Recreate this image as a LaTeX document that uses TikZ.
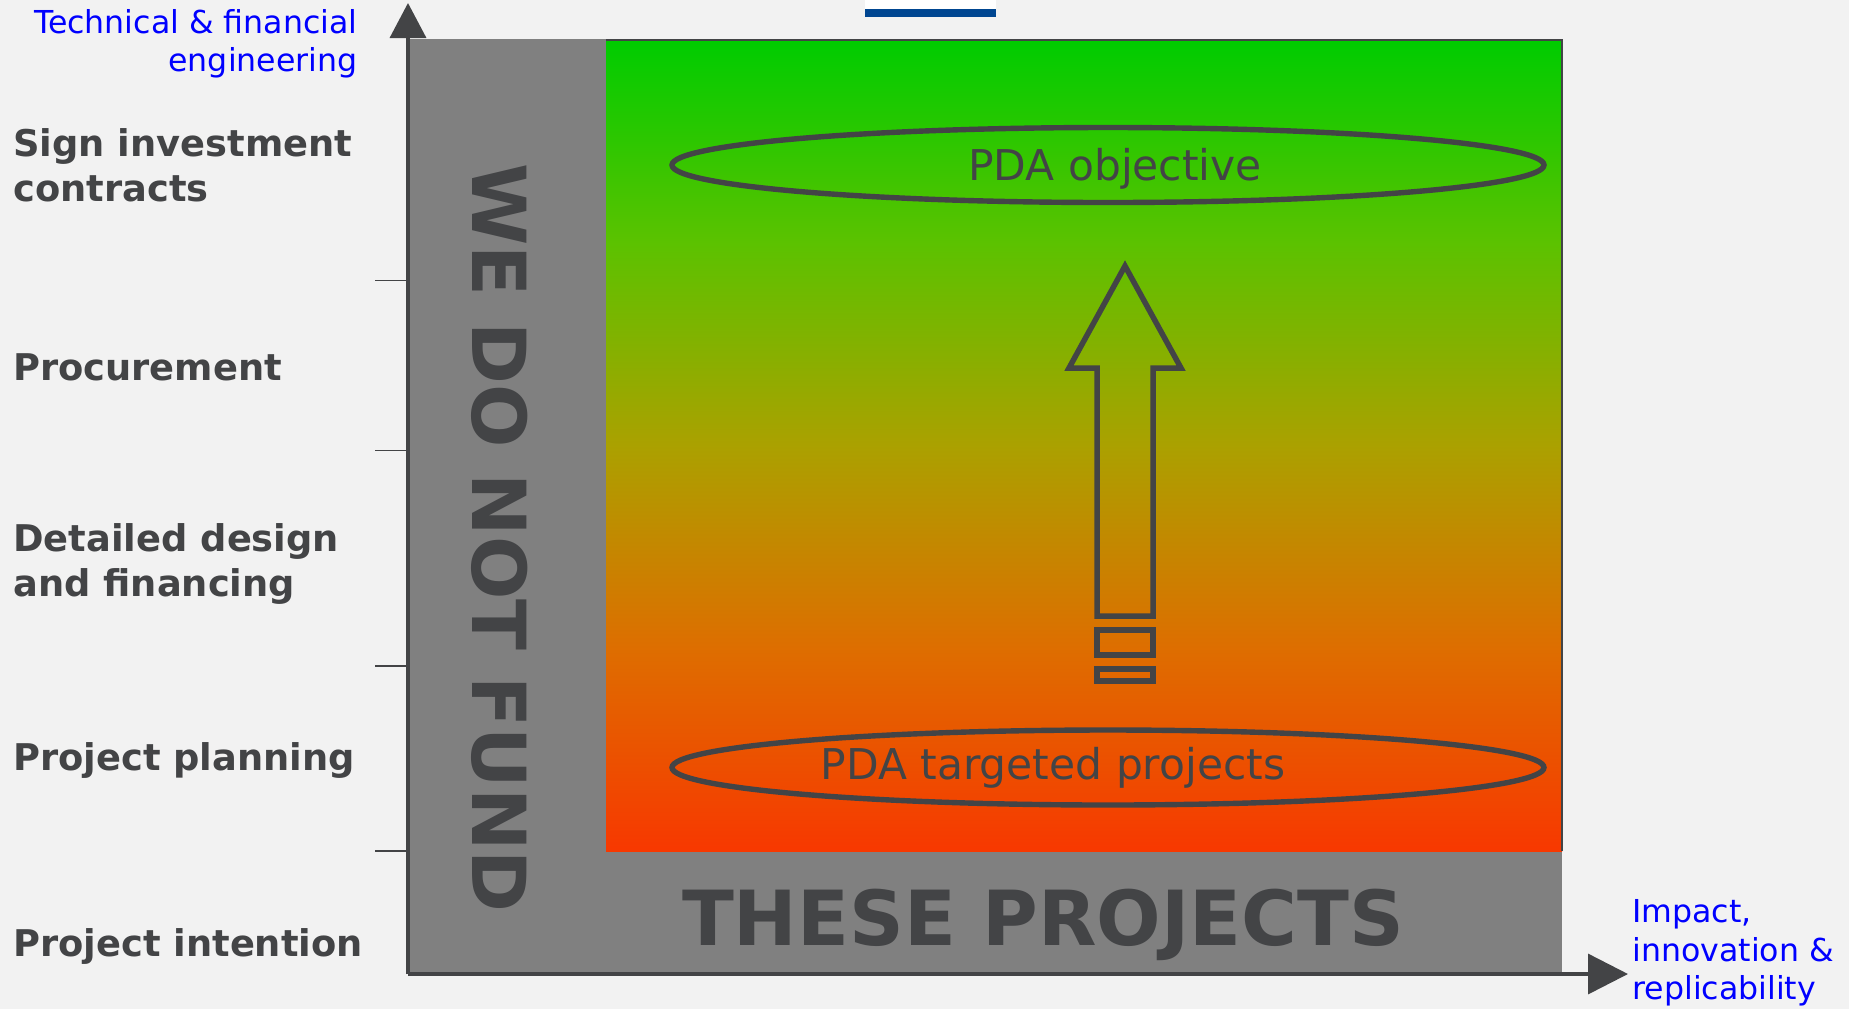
\documentclass[tikz,border=0pt]{standalone}
\usepackage{fontspec}
\setmainfont{DejaVu Sans}
\usetikzlibrary{arrows.meta,shapes.geometric}

\definecolor{bg}{RGB}{242,242,242}
\definecolor{ink}{RGB}{67,68,70}
\definecolor{panel}{RGB}{128,128,128}
\definecolor{axisblue}{RGB}{0,0,255}
\definecolor{logoblue}{RGB}{0,70,145}

% green (top) to red-orange (bottom); the path fills the 25bp..75bp band
\pgfdeclareverticalshading{readiness}{100bp}{%
  rgb(0bp)=(0.97,0.22,0); rgb(25bp)=(0.97,0.22,0);
  rgb(37.5bp)=(0.87,0.43,0); rgb(50bp)=(0.67,0.63,0);
  rgb(62.5bp)=(0.36,0.76,0); rgb(75bp)=(0,0.80,0); rgb(100bp)=(0,0.80,0)}

\tikzset{
  stage/.style={anchor=west, inner sep=0pt, align=left, text=ink,
    font=\fontsize{18.4}{22.5}\selectfont\bfseries},
  axislabel/.style={inner sep=0pt, text=axisblue,
    font=\fontsize{15.8}{19.2}\selectfont},
  goal/.style={ellipse, draw=ink, line width=2.7pt, inner sep=0pt,
    minimum width=436pt, minimum height=37.5pt},
  goaltext/.style={inner sep=0pt, text=ink, font=\fontsize{21.2}{25}\selectfont},
  banner/.style={inner sep=0pt, text=ink, font=\fontsize{38}{44}\selectfont\bfseries},
  axisline/.style={draw=ink, line width=1.75pt},
  tick/.style={draw=ink, line width=0.8pt},
  progress/.style={draw=ink, line width=2.75pt, line join=miter},
}

\begin{document}
\begin{tikzpicture}[x=0.5pt,y=-0.5pt]
  % canvas
  \fill[bg] (0,0) rectangle (1849,1009);
  \useasboundingbox (0,0) rectangle (1849,1009);

  % strip of a header bar at the top edge
  \fill[white] (865,0) rectangle (996,9);
  \fill[logoblue] (865,9) rectangle (996,17);

  % excluded zone and funded zone
  \fill[panel] (408,39) rectangle (1562,974);
  \shade[shading=readiness] (606,41) rectangle (1562,851);
  \draw[ink, line width=0.7pt] (606,40) -- (1562,40) -- (1562,851);

  % axes
  \coordinate (origin) at (408,974);
  \coordinate (ytip) at (408,3);
  \coordinate (xtip) at (1628,974);
  \draw[axisline, -{Triangle[length=17.5pt,width=18pt]}] (origin) -- (ytip);
  \draw[axisline, -{Triangle[length=20pt,width=20pt]}] (origin) -- (xtip);

  % stage separators on the vertical axis
  \foreach \yy in {280.6,450.4,666,851}
    \draw[tick] (375,\yy) -- (408,\yy);

  % stage labels
  \node[stage] (sign) at (13,165) {Sign investment\\contracts};
  \node[stage] (proc) at (13,367) {Procurement};
  \node[stage] (design) at (13,563.5) {Detailed design\\and financing};
  \node[stage] (plan) at (13,760.5) {Project planning};
  \node[stage] (intent) at (13,946.5) {Project intention};

  % axis titles
  \node[axislabel, anchor=east, align=right] (ytitle) at (358,43.5)
    {Technical \& financial\\engineering};
  \node[axislabel, anchor=west, align=left] (xtitle) at (1632,953)
    {Impact,\\innovation \&\\replicability};

  % objective and target ellipses
  \node[goal] (objective) at (1108,165) {};
  \node[goaltext] (objtext) at (1115,168.5) {PDA objective};
  \node[goal] (targeted) at (1108,767.5) {};
  \node[goaltext] (tgttext) at (1053,767.5) {PDA targeted projects};

  % upward progress arrow with its two trailing bars
  \draw[progress] (1125,266) -- (1181,368) -- (1153,368) -- (1153,616)
    -- (1097,616) -- (1097,368) -- (1069,368) -- cycle;
  \draw[progress] (1097,630) rectangle (1153,655);
  \draw[progress] (1097,669) rectangle (1153,681);

  % banner text on the grey zone
  \node[banner, rotate=-90, font=\fontsize{37.3}{44}\selectfont\bfseries]
    (wedo) at (500,538) {WE DO NOT FUND};
  \node[banner] (these) at (1043,925) {THESE PROJECTS};
\end{tikzpicture}
\end{document}
